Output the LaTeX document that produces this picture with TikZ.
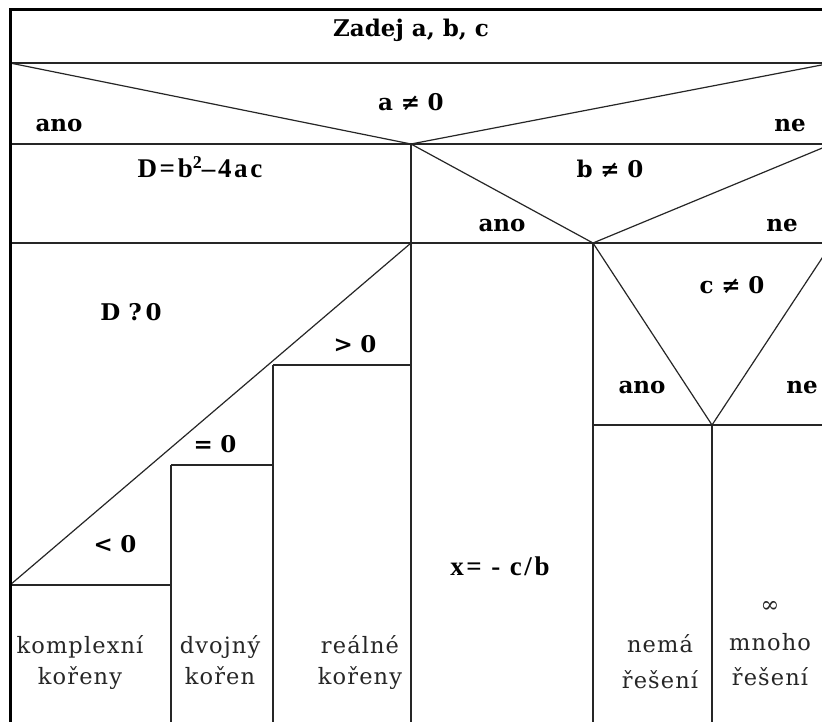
\documentclass[tikz,border=0pt]{standalone}
\usepackage{fontspec}
\newfontfamily\vera{DejaVu Serif}
\newfontfamily\veraleaf[LetterSpace=5]{DejaVu Serif}
\newfontfamily\tms[LetterSpace=10]{Liberation Serif}
\begin{document}
\begin{tikzpicture}[x=1pt,y=-1pt,
  ln/.style={line width=1.2pt,black!85},
  border/.style={line width=3pt,black},
  lbl/.style={font=\vera\bfseries\fontsize{23}{23}\selectfont,inner sep=0pt,anchor=base},
  cond/.style={font=\vera\bfseries\fontsize{23}{23}\selectfont,inner sep=0pt,anchor=base},
  stmt/.style={font=\tms\bfseries\fontsize{27}{27}\selectfont,inner sep=0pt,anchor=base},
  leaf/.style={font=\veraleaf\fontsize{22.5}{22.5}\selectfont,inner sep=0pt,anchor=base,text=black!85}]
\useasboundingbox (0,0) rectangle (822,722);
\fill[white] (0,0) rectangle (822,722);
\begin{scope}
\clip (0,0) rectangle (822,722);
% key coordinates
\coordinate (TL) at (10,10);
\coordinate (TR) at (832,10);
\coordinate (BL) at (10,732);
\coordinate (A1) at (10,63);
\coordinate (A2) at (832,63);
\coordinate (B1) at (10,144);
\coordinate (B2) at (832,144);
\coordinate (Aap) at (411,144);
\coordinate (C1) at (10,243);
\coordinate (C2) at (832,243);
\coordinate (Mtop) at (411,243);
\coordinate (Bap) at (593,243);
\coordinate (Cap) at (712,425);
\coordinate (Cr) at (832,425);
\coordinate (S1) at (273,365);
\coordinate (S1r) at (411,365);
\coordinate (S2) at (171,465);
\coordinate (S2r) at (273,465);
\coordinate (S3) at (10,585);
\coordinate (S3r) at (171,585);
% horizontal lines
\draw[ln] (A1) -- (A2);
\draw[ln] (B1) -- (B2);
\draw[ln] (C1) -- (C2);
% a != 0
\draw[ln] (A1) -- (Aap) -- (A2);
% b != 0
\draw[ln] (Aap) -- (Bap) -- (B2);
\draw[ln] (Aap) -- (411,732);
% c != 0
\draw[ln] (Bap) -- (Cap) -- (C2);
\draw[ln] (Bap) -- (593,732);
\draw[ln] (Bap |- Cap) -- (Cr);
\draw[ln] (Cap) -- (712,732);
% D ? 0
\draw[ln] (Mtop) -- (S3);
\draw[ln] (S1) -- (S1r);
\draw[ln] (S1) -- (273,732);
\draw[ln] (S2) -- (S2r);
\draw[ln] (S2) -- (171,732);
\draw[ln] (S3) -- (S3r);
% outer border
\draw[border] (BL) -- (TL) -- (TR);
\end{scope}
% texts
\node[lbl] (zadej) at (411,37) {Zadej a, b, c};
\node[cond] (aneq) at (411,111) {a\,\,≠\,\,0};
\node[lbl] (aano) at (59,132) {ano};
\node[lbl] (ane) at (790,132) {ne};
\node[stmt] (disc) at (200,178) {D=b\raisebox{9pt}{\fontsize{18}{18}\selectfont 2}–4ac};
\node[cond] (bneq) at (610,178) {b\,\,≠\,\,0};
\node[lbl] (bano) at (502,232) {ano};
\node[lbl] (bne) at (782,232) {ne};
\node[cond] (cneq) at (732,293) {c\,\,≠\,\,0};
\node[lbl] (cano) at (642,393) {ano};
\node[lbl] (cne) at (802,393) {ne};
\node[cond] (dq) at (131,320) {D ?\,0};
\node[cond] (gt) at (355,352) {>\,\,0};
\node[cond] (eq) at (215,452) {=\,\,0};
\node[cond] (lt) at (115,552) {<\,\,0};
\node[leaf] (k1) at (80,653) {komplexní};
\node[leaf] (k2) at (80,684) {kořeny};
\node[leaf] (d1) at (220,653) {dvojný};
\node[leaf] (d2) at (220,684) {kořen};
\node[leaf] (r1) at (360,653) {reálné};
\node[leaf] (r2) at (360,684) {kořeny};
\node[stmt] (xs) at (500,575) {x= - c/b};
\node[leaf] (n1) at (660,652) {nemá};
\node[leaf] (n2) at (660,688) {řešení};
\node[leaf] (m0) at (770,612) {∞};
\node[leaf] (m1) at (770,650) {mnoho};
\node[leaf] (m2) at (770,685) {řešení};
\end{tikzpicture}
\end{document}
